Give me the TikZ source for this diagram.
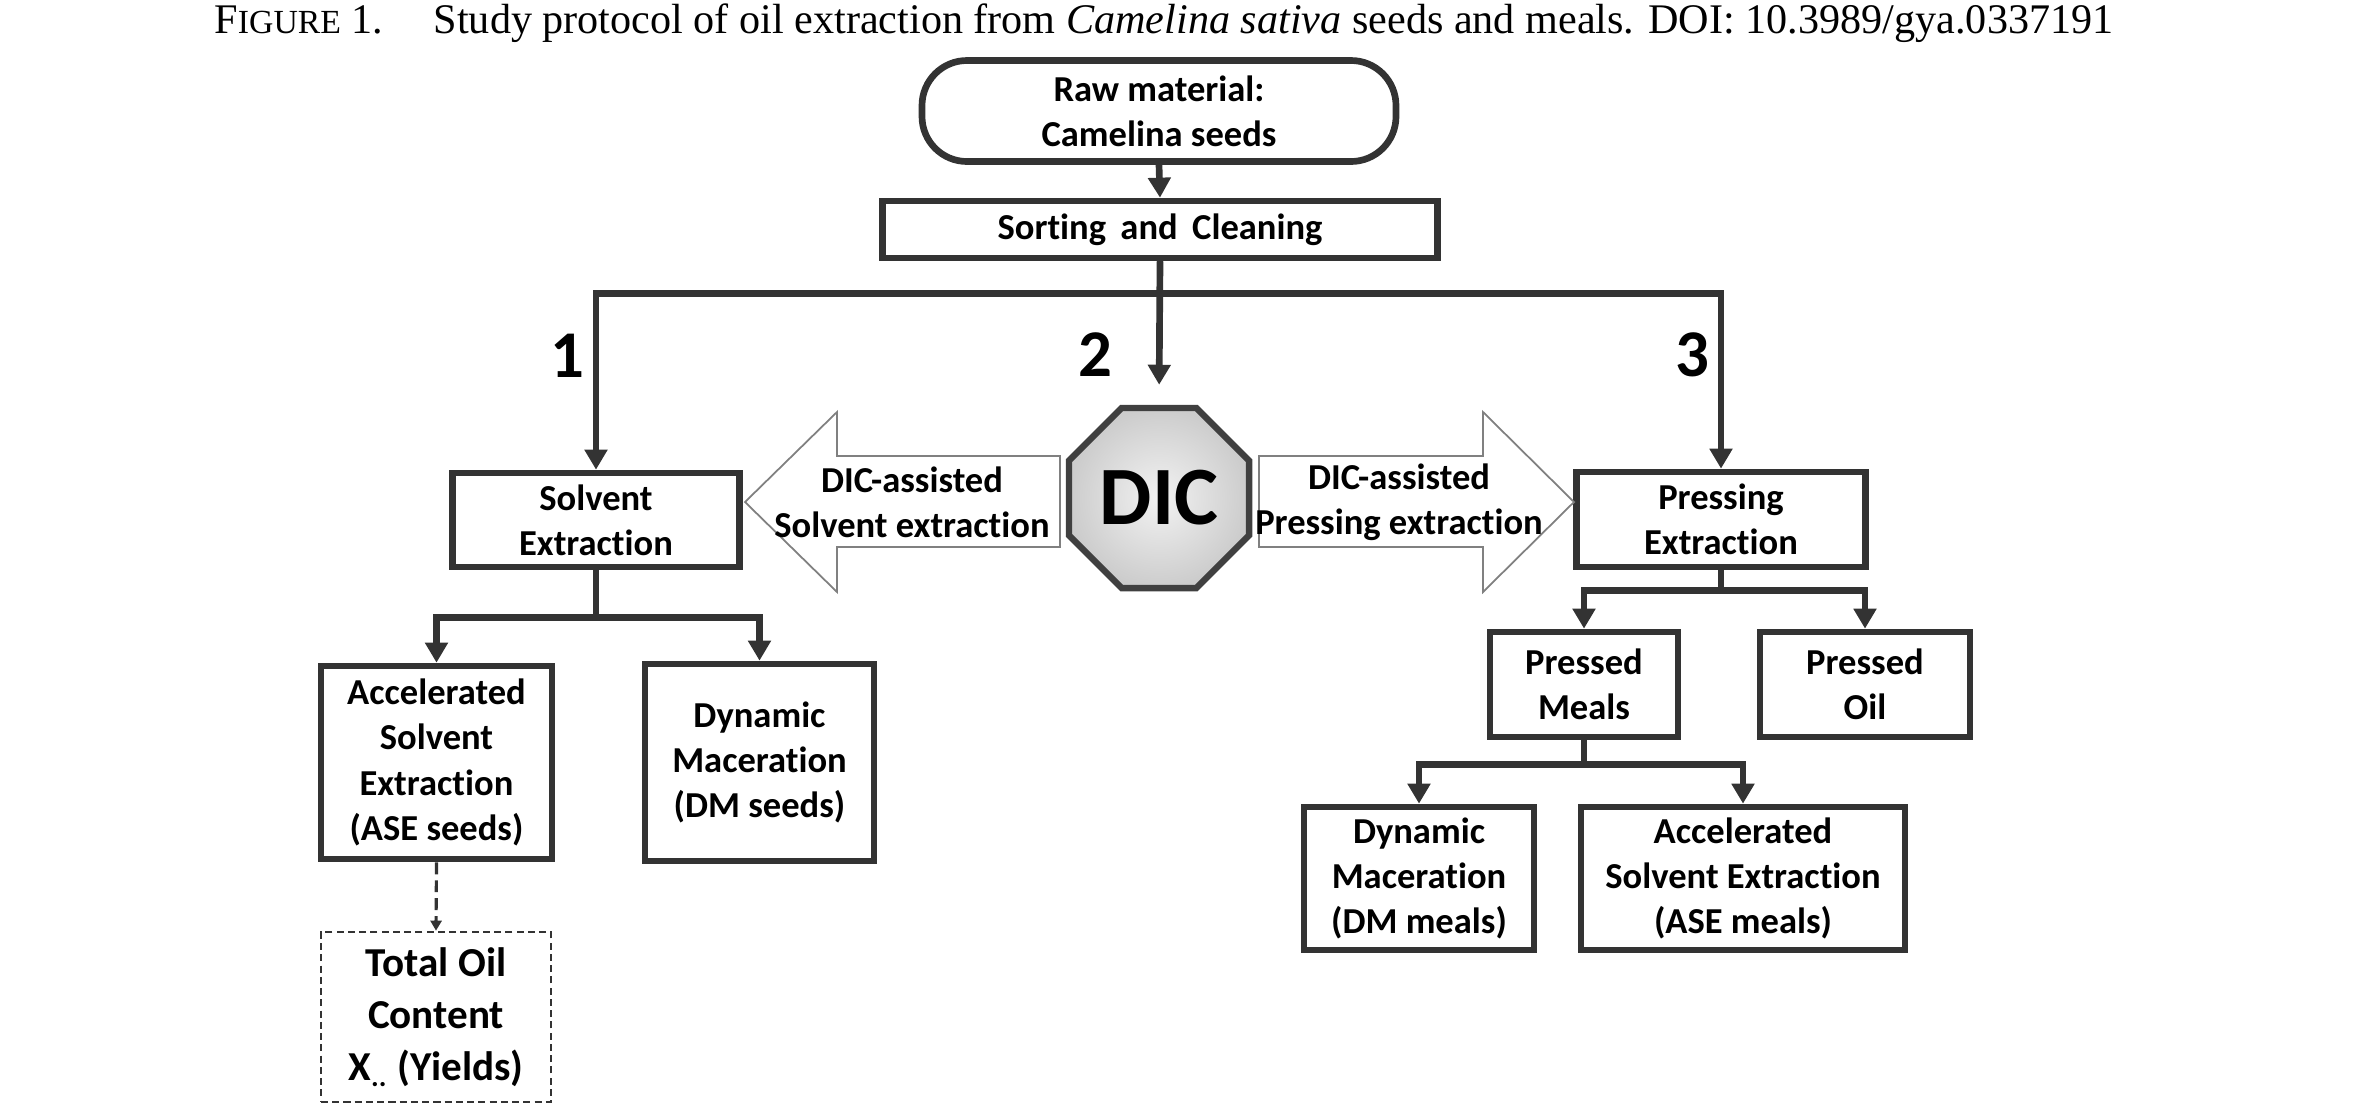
\documentclass[tikz,border=0pt]{standalone}
\usepackage{fontspec}
\setmainfont{Liberation Serif}
\newfontfamily\calib[Ligatures=NoCommon]{Carlito}
\usepackage{tikz}
\usetikzlibrary{arrows.meta,shapes.geometric}
\definecolor{linegray}{HTML}{333333}

\begin{document}
\begin{tikzpicture}[
    every node/.style={font=\calib\bfseries\fontsize{10.4}{12.9}\selectfont, align=center, inner sep=0pt},
    box/.style={draw=linegray, line width=1.9pt, fill=white},
    conn/.style={draw=linegray, line width=1.9pt, -{Triangle[width=0.22cm,length=0.2cm]}},
    dashconn/.style={draw=linegray, line width=0.9pt, dash pattern=on 3.4pt off 1.7pt, -{Triangle[width=0.11cm,length=0.1cm]}},
    bigarrow/.style={draw=gray, line width=0.5pt, fill=white},
    numlabel/.style={font=\calib\bfseries\fontsize{19}{22}\selectfont}
]
\useasboundingbox (0,0) rectangle (23.58,-11.05);

% caption
\node[font=\fontsize{12}{14}\selectfont, anchor=base] (caption) at (11.64,-0.33)
    {F{\fontsize{9.6}{11}\selectfont IGURE} 1.\hspace{1.2em}Study protocol of oil extraction from \textit{Camelina sativa} seeds and meals. DOI: 10.3989/gya.0337191};

% top part
\node[box, rounded corners=0.45cm, minimum width=4.74cm, minimum height=1.01cm] (raw) at (11.59,-1.11) {Raw material:\\Camelina seeds};
\node[box, minimum width=5.55cm, minimum height=0.57cm] (sort) at (11.60,-2.295) {Sorting\, and\, Cleaning};

\node[box, minimum width=2.87cm, minimum height=0.94cm] (solv) at (5.96,-5.20) {Solvent\\Extraction};
\node[box, minimum width=2.89cm, minimum height=0.95cm] (press) at (17.21,-5.195) {Pressing\\Extraction};
\node[regular polygon, regular polygon sides=8, minimum size=1.95cm, draw=black!75, line width=1.8pt,
      shading=radial, inner color=gray!10, outer color=gray!40,
      font=\calib\bfseries\fontsize{23.6}{26}\selectfont] (dic) at (11.59,-4.98) {DIC};

\node[numlabel] (n1) at (5.67,-3.56) {1};
\node[numlabel] (n2) at (10.95,-3.55) {2};
\node[numlabel] (n3) at (16.92,-3.55) {3};

% hollow arrows beside DIC
\draw[bigarrow] (7.45,-5.02) -- (8.37,-4.12) -- (8.37,-4.56) -- (10.60,-4.56)
    -- (10.60,-5.47) -- (8.37,-5.47) -- (8.37,-5.92) -- cycle;
\draw[bigarrow] (12.59,-4.56) -- (14.83,-4.56) -- (14.83,-4.12) -- (15.74,-5.02)
    -- (14.83,-5.92) -- (14.83,-5.47) -- (12.59,-5.47) -- cycle;
\node[fill=none] (dicsolv) at (9.12,-5.02) {DIC-assisted\\Solvent extraction};
\node[fill=none] (dicpress) at (13.99,-5.02) {DIC-assisted\\Pressing extraction};

% seeds branch
\node[box, minimum width=2.31cm, minimum height=1.93cm] (aseS) at (4.365,-7.625) {Accelerated\\Solvent\\Extraction\\(ASE seeds)};
\node[box, minimum width=2.29cm, minimum height=1.97cm] (dmS) at (7.595,-7.625) {Dynamic\\Maceration\\(DM seeds)};
\node[draw=linegray, line width=0.75pt, dash pattern=on 2pt off 1.2pt, minimum width=2.30cm, minimum height=1.70cm,
      font=\calib\bfseries\fontsize{11.7}{14.8}\selectfont] (toc) at (4.36,-10.17) {Total Oil\\Content\\X\textsubscript{..} (Yields)};

% pressing branch
\node[box, minimum width=1.88cm, minimum height=1.05cm] (pmeal) at (15.84,-6.845) {Pressed\\Meals};
\node[box, minimum width=2.10cm, minimum height=1.05cm] (poil) at (18.65,-6.845) {Pressed\\Oil};
\node[box, minimum width=2.30cm, minimum height=1.43cm] (dmM) at (14.19,-8.785) {Dynamic\\Maceration\\(DM meals)};
\node[box, minimum width=3.24cm, minimum height=1.43cm] (aseM) at (17.43,-8.785) {Accelerated\\Solvent Extraction\\(ASE meals)};

% connectors
\draw[conn] (raw.south) -- (sort.north);
\draw[conn] (sort.south) -- ++(0,-0.32) -| (solv.north);
\draw[conn] (sort.south) -- ++(0,-0.32) -| (press.north);
\draw[conn, shorten >=0.2cm] (sort.south) -- (dic.north);

\draw[conn] (solv.south) -- ++(0,-0.47) -| (aseS.north);
\draw[conn] (solv.south) -- ++(0,-0.47) -| (dmS.north);
\draw[dashconn] (aseS.south) -- (toc.north);

\draw[conn] (press.south) -- ++(0,-0.20) -| (pmeal.north);
\draw[conn] (press.south) -- ++(0,-0.20) -| (poil.north);
\draw[conn] (pmeal.south) -- ++(0,-0.24) -| (dmM.north);
\draw[conn] (pmeal.south) -- ++(0,-0.24) -| (aseM.north);
\end{tikzpicture}
\end{document}
